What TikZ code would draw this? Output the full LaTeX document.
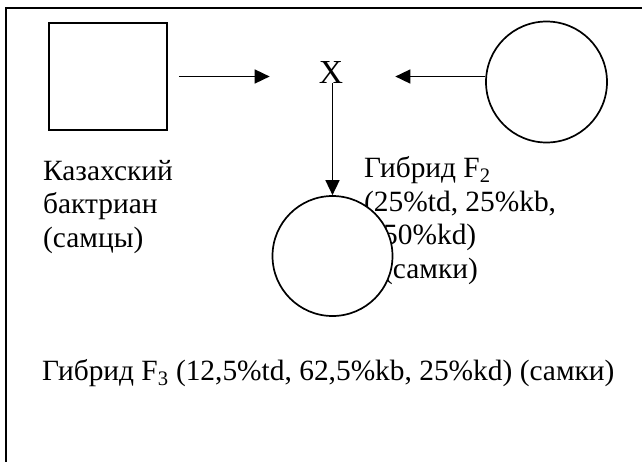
\documentclass[tikz,border=0pt]{standalone}
\usepackage{fontspec}
\setmainfont{Liberation Serif}
\usetikzlibrary{arrows.meta}

\begin{document}
\begin{tikzpicture}[x=1pt,y=-1pt,>={Triangle[length=15pt,width=14pt]},
  every node/.style={font=\fontsize{29.4pt}{33.5pt}\selectfont,inner sep=0pt},
  padre/.style={draw,line width=1.7pt,fill=white},
  flecha/.style={->,line width=1.6pt}]
  % Marco (cortado a la derecha y abajo)
  \useasboundingbox (0,0) rectangle (642,461);
  \clip (0,0) rectangle (642,461);
  \draw[line width=2.5pt] (6,8) rectangle (660,480);

  % Padres y signo de cruce
  \node[padre,rectangle,minimum width=118pt,minimum height=107pt] (male) at (108,76.5) {};
  \node[padre,circle,minimum size=121pt] (female) at (546.5,82) {};
  \node[font=\fontsize{33.6pt}{38pt}\selectfont] (cross) at (331,72) {X};

  % Rotulos (base = ultima linea)
  \node[anchor=base west,align=left] (maleinfo) at (43,247)
    {Казахский\\бактриан\\(самцы)};
  \node[anchor=base west,align=left] (femaleinfo) at (364,278)
    {Гибрид F\textsubscript{2}\\(25\%td, 25\%kb,\\\hspace*{19pt}50\%kd)\\\hspace*{19pt}(самки)};
  \node[anchor=base west] (offspringinfo) at (42,380)
    {Гибрид F\textsubscript{3} (12,5\%td, 62,5\%kb, 25\%kd) (самки)};

  % Descendencia (tapa parte del rotulo)
  \node[padre,circle,minimum size=120pt] (offspring) at (332.5,256) {};

  % Flechas
  \draw[flecha,shorten <=11pt,shorten >=49pt] (male.east) -- (male.east -| cross.west);
  \draw[flecha,shorten >=52pt] (female.west |- male.east) -- (cross.east |- male.east);
  \draw[flecha] (cross.south -| offspring.north) -- (offspring.north);
\end{tikzpicture}
\end{document}
